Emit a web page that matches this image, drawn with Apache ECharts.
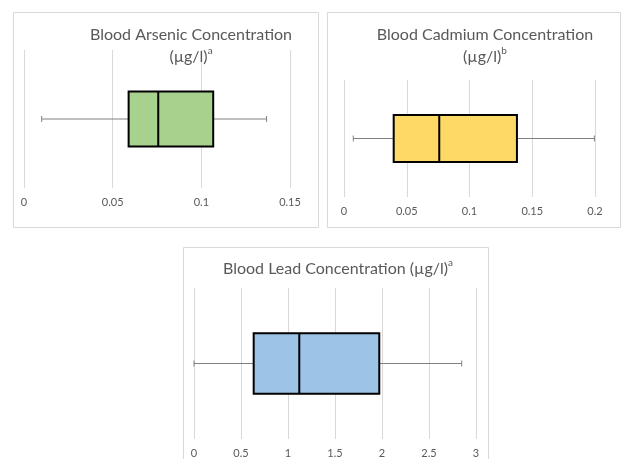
<!DOCTYPE html>
<html>
<head>
<meta charset="utf-8">
<script src="https://cdn.jsdelivr.net/npm/echarts@6/dist/echarts.min.js"></script>
<style>html,body{margin:0;padding:0;background:#fff;}#c{width:621px;height:459px;}</style>
</head>
<body>
<div id="c"></div>
<script>
// Box-plot statistics: [min, Q1, median, Q3, max]
var arsenicStats = [0.01, 0.059, 0.0757, 0.1067, 0.1368];
var cadmiumStats = [0.0074, 0.0396, 0.0759, 0.1378, 0.1995];
var leadStats = [0, 0.635, 1.12, 1.971, 2.848];

var panelTitles = ['Blood Arsenic Concentration\n(µg/l){sup|a}',
                   'Blood Cadmium Concentration\n(µg/l){sup|b}',
                   'Blood Lead Concentration (µg/l){sup|a}'];
var axisMax = [0.15, 0.2, 3];
var axisStep = [0.05, 0.05, 0.5];
var boxColors = ['#A9D18E', '#FFD966', '#9DC3E6'];
var categories = ['x'];

var chart = echarts.init(document.getElementById('c'), null, {renderer: 'canvas'});
var font = 'Lato, "Open Sans", sans-serif';

var grids = [
  {left: 24, top: 50, width: 266, height: 138},
  {left: 344, top: 80, width: 251, height: 117},
  {left: 194, top: 288, width: 282, height: 152}
];
var titlePos = [
  {left: 186, top: 19},
  {left: 480, top: 19},
  {left: 333, top: 253}
];
var allStats = [arsenicStats, cadmiumStats, leadStats];

function renderBox(color) {
  return function (params, api) {
    var mn = api.value(0), q1 = api.value(1), md = api.value(2), q3 = api.value(3), mx = api.value(4);
    var cy = api.coord([0, 0])[1];
    var band = api.size([0, 1])[1];
    var h = band * 0.4;
    var pMin = api.coord([mn, 0])[0], pQ1 = api.coord([q1, 0])[0], pMd = api.coord([md, 0])[0];
    var pQ3 = api.coord([q3, 0])[0], pMax = api.coord([mx, 0])[0];
    var wStyle = {stroke: '#808080', lineWidth: 1};
    return {
      type: 'group',
      children: [
        {type: 'line', shape: {x1: pMin, y1: cy, x2: pQ1, y2: cy}, style: wStyle},
        {type: 'line', shape: {x1: pQ3, y1: cy, x2: pMax, y2: cy}, style: wStyle},
        {type: 'line', shape: {x1: pMin, y1: cy - 3, x2: pMin, y2: cy + 3}, style: wStyle},
        {type: 'line', shape: {x1: pMax, y1: cy - 3, x2: pMax, y2: cy + 3}, style: wStyle},
        {type: 'rect', shape: {x: pQ1, y: cy - h / 2, width: pQ3 - pQ1, height: h},
          style: {fill: color, stroke: '#000', lineWidth: 2}},
        {type: 'line', shape: {x1: pMd, y1: cy - h / 2, x2: pMd, y2: cy + h / 2},
          style: {stroke: '#000', lineWidth: 2}}
      ]
    };
  };
}

var option = {
  backgroundColor: '#fff',
  animation: false,
  title: panelTitles.map(function (t, i) {
    return {
      text: t,
      left: titlePos[i].left, top: titlePos[i].top,
      textAlign: 'center',
      textStyle: {
        fontFamily: font, fontSize: 16, fontWeight: 'normal', color: '#595959', lineHeight: 22,
        rich: {sup: {fontFamily: font, fontSize: 10, color: '#595959', verticalAlign: 'top', lineHeight: 22, padding: [0, 0, 8, 0]}}
      }
    };
  }),
  graphic: [
    {type: 'rect', shape: {x: 13.5, y: 12.5, width: 305, height: 215}, style: {fill: 'none', stroke: '#d9d9d9', lineWidth: 1}, silent: true},
    {type: 'rect', shape: {x: 327.5, y: 12.5, width: 293, height: 215}, style: {fill: 'none', stroke: '#d9d9d9', lineWidth: 1}, silent: true},
    {type: 'rect', shape: {x: 183.5, y: 247.5, width: 305, height: 230}, style: {fill: 'none', stroke: '#d9d9d9', lineWidth: 1}, silent: true}
  ],
  grid: grids,
  xAxis: grids.map(function (g, i) {
    return {
      type: 'value', gridIndex: i, min: 0, max: axisMax[i], interval: axisStep[i],
      axisLine: {show: false}, axisTick: {show: false},
      splitLine: {show: true, lineStyle: {color: '#d9d9d9', width: 1}},
      axisLabel: {color: '#595959', fontFamily: font, fontSize: 11, margin: 9}
    };
  }),
  yAxis: grids.map(function (g, i) {
    return {type: 'category', gridIndex: i, data: categories, show: false};
  }),
  series: allStats.map(function (s, i) {
    return {
      type: 'custom', xAxisIndex: i, yAxisIndex: i,
      renderItem: renderBox(boxColors[i]),
      encode: {x: [0, 1, 2, 3, 4], y: 5},
      data: [s.concat([0])]
    };
  })
};
chart.setOption(option);
</script>
</body>
</html>
